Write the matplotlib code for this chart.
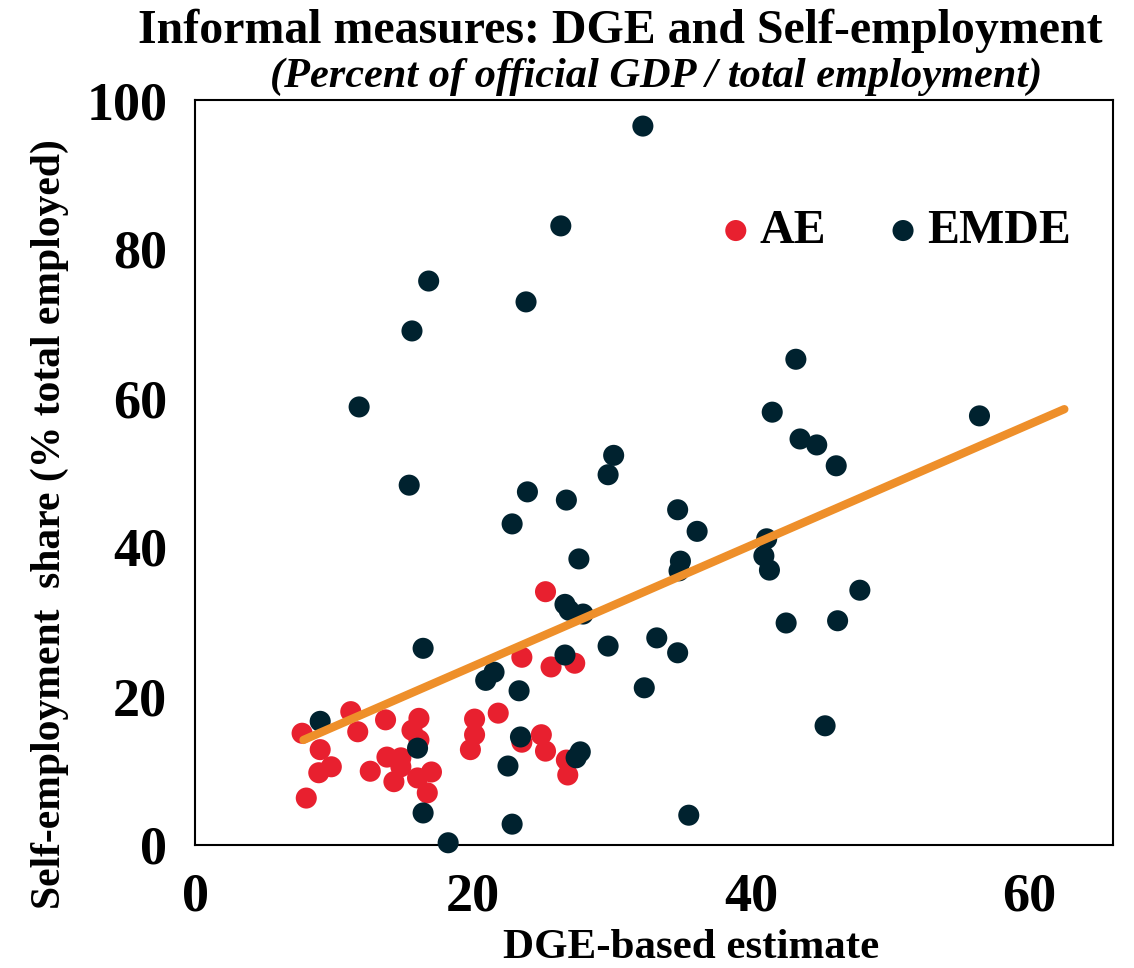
import matplotlib
matplotlib.use("Agg")
import matplotlib.pyplot as plt
import numpy as np

# AE: advanced economies (x = DGE-based estimate, y = self-employment share)
ae_x = [7.7, 8.0, 9.0, 8.9, 9.8, 11.2, 11.7, 12.6, 13.7, 13.8, 14.8, 14.3, 14.8,
        15.6, 16.1, 16.1, 16.0, 17.0, 16.7, 20.1, 20.1, 19.8, 21.8, 23.5, 25.6,
        27.3, 24.9, 25.2, 23.5, 26.7, 26.8, 25.2]
ae_y = [15.0, 6.3, 12.8, 9.7, 10.5, 17.9, 15.2, 9.9, 16.8, 11.8, 11.7, 8.5, 10.5,
        15.4, 17.0, 14.1, 9.0, 9.8, 7.0, 16.9, 14.8, 12.8, 17.7, 25.2, 23.9,
        24.4, 14.8, 12.6, 13.8, 11.4, 9.4, 34.0]

# EMDE: emerging market and developing economies
emde_x = [32.2, 26.3, 16.8, 23.8, 15.6, 43.2, 11.8, 41.5, 56.4, 43.5, 44.7, 30.1,
          46.1, 29.7, 15.4, 23.9, 26.7, 34.7, 22.8, 36.1, 41.1, 40.9, 27.6, 34.9,
          34.8, 41.3, 47.8, 26.6, 26.9, 27.9, 42.5, 46.2, 33.2, 29.7, 16.4, 34.7,
          26.6, 20.9, 21.5, 32.3, 23.3, 9.0, 45.3, 23.4, 16.0, 27.7, 27.4, 22.5,
          16.4, 22.8, 18.2, 35.5]
emde_y = [96.5, 83.1, 75.7, 72.9, 69.0, 65.2, 58.8, 58.1, 57.6, 54.5, 53.7, 52.3,
          50.9, 49.7, 48.3, 47.4, 46.3, 45.0, 43.1, 42.1, 41.1, 38.8, 38.4, 38.1,
          36.8, 36.9, 34.2, 32.3, 31.5, 31.0, 29.8, 30.1, 27.8, 26.7, 26.4, 25.8,
          25.5, 22.1, 23.2, 21.1, 20.7, 16.6, 16.0, 14.5, 13.0, 12.5, 11.7, 10.6,
          4.3, 2.8, 0.3, 4.0]

# linear trend drawn in the chart
trend_x = [7.8, 62.5]
trend_y = [14.1, 58.5]

AE_COLOR = "#E8202F"
EMDE_COLOR = "#00222F"
TREND_COLOR = "#EE8F2A"

plt.rcParams["font.family"] = ["Liberation Serif", "DejaVu Serif"]
plt.rcParams["font.weight"] = "bold"

W, H = 1134, 968
fig = plt.figure(figsize=(W / 100, H / 100), dpi=100)
ax = fig.add_axes([195 / W, 1 - 845 / H, 918 / W, 745 / H])

ax.scatter(ae_x, ae_y, s=230, color=AE_COLOR, edgecolors="none", label="AE", zorder=3, clip_on=False)
ax.scatter(emde_x, emde_y, s=230, color=EMDE_COLOR, edgecolors="none", label="EMDE", zorder=3, clip_on=False)
ax.plot(trend_x, trend_y, color=TREND_COLOR, lw=6, solid_capstyle="round", zorder=4)

ax.set_xlim(0, 66)
ax.set_ylim(0, 100)
ax.set_xticks([0, 20, 40, 60])
ax.set_yticks([0, 20, 40, 60, 80, 100])
ax.tick_params(length=0, labelsize=39, pad=20)
for lab in ax.get_xticklabels() + ax.get_yticklabels():
    lab.set_fontweight("bold")

for sp in ax.spines.values():
    sp.set_linewidth(1.5)
    sp.set_color("black")

# axis titles placed where they sit in the original
fig.text(691 / W, 1 - 948 / H, "DGE-based estimate", ha="center", va="center",
         fontsize=31, fontweight="bold")
fig.text(50 / W, 1 - 524 / H, "Self-employment  share (% total employed)", ha="center", va="center",
         rotation=90, fontsize=30, fontweight="bold")

fig.text(620 / W, 1 - 43 / H, "Informal measures: DGE and Self-employment", ha="center", va="baseline",
         fontsize=34.5, fontweight="bold")
fig.text(656 / W, 1 - 87 / H, "(Percent of official GDP / total employment)", ha="center", va="baseline",
         fontsize=30.5, fontweight="bold", fontstyle="italic")

leg = ax.legend(loc="center left", bbox_to_anchor=(0.563, 0.824), ncol=2, frameon=False,
                prop={"size": 34.5, "weight": "bold"}, handlelength=1.0, handletextpad=0.0,
                columnspacing=1.1, borderaxespad=0, borderpad=0)

fig.savefig("out.png", dpi=100)
